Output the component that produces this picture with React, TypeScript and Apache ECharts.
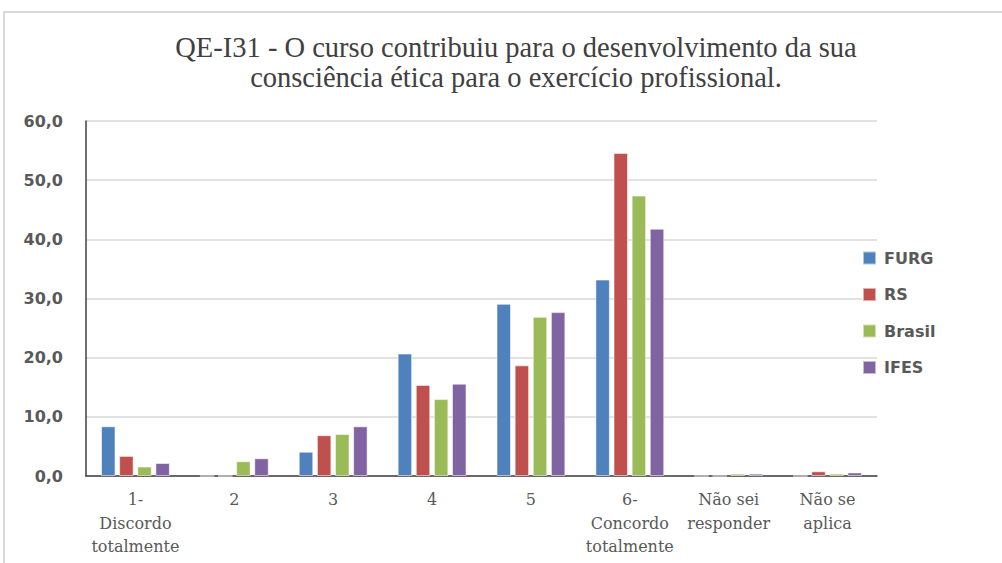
import React, { useEffect, useRef } from "react";
import * as echarts from "echarts";

const titleText = "QE-I31 - O curso contribuiu para o desenvolvimento da sua\nconsciência ética para o exercício profissional.";
const categories = [
  "1-\nDiscordo\ntotalmente",
  "2",
  "3",
  "4",
  "5",
  "6-\nConcordo\ntotalmente",
  "Não sei\nresponder",
  "Não se\naplica",
];
const seriesNames = ["FURG", "RS", "Brasil", "IFES"];
const furg = [8.4, 0, 4.1, 20.7, 29.1, 33.2, 0, 0];
const rs = [3.4, 0, 6.9, 15.4, 18.7, 54.6, 0, 0.8];
const brasil = [1.6, 2.5, 7.1, 13.0, 26.9, 47.4, 0.4, 0.4];
const ifes = [2.2, 3.0, 8.4, 15.6, 27.7, 41.8, 0.4, 0.6];
const colors = ["#4F81BD", "#C0504D", "#9BBB59", "#8064A2"];

export default function App() {
  const ref = useRef<HTMLDivElement>(null);
  useEffect(() => {
    if (!ref.current) return;
    const chart = echarts.init(ref.current, null, { renderer: "svg" });
    const data = [furg, rs, brasil, ifes];
    chart.setOption({
      animation: false,
      backgroundColor: "#ffffff",
      graphic: [
        {
          type: "rect",
          shape: { x: 4, y: 12, width: 1100, height: 700 },
          style: { fill: "none", stroke: "#d9d9d9", lineWidth: 2 },
          silent: true,
        },
      ],
      title: {
        text: titleText,
        left: 511,
        top: 27,
        textAlign: "center",
        textStyle: {
          fontFamily: "Liberation Serif",
          fontSize: 28.5,
          fontWeight: "normal",
          color: "#404040",
          lineHeight: 30,
        },
      },
      legend: {
        orient: "vertical",
        left: 862,
        top: 250,
        padding: 0,
        itemWidth: 13,
        itemHeight: 13,
        itemGap: 20.5,
        icon: "rect",
        data: seriesNames,
        textStyle: {
          fontFamily: "DejaVu Sans",
          fontSize: 16,
          fontWeight: "bold",
          color: "#595959",
          padding: [0, 0, 0, 3],
        },
      },
      grid: { left: 86, right: 125, top: 121, bottom: 87 },
      xAxis: {
        type: "category",
        data: categories,
        axisLine: { lineStyle: { color: "#404040", width: 1.5 } },
        axisTick: { show: false },
        axisLabel: {
          interval: 0,
          margin: 12,
          fontFamily: "DejaVu Serif",
          fontSize: 16,
          color: "#595959",
          lineHeight: 23.5,
        },
      },
      yAxis: {
        type: "value",
        min: 0,
        max: 60,
        interval: 10,
        axisLine: { show: true, lineStyle: { color: "#404040", width: 1.5 } },
        axisTick: { show: false },
        splitLine: { lineStyle: { color: "#d9d9d9", width: 1.5 } },
        axisLabel: {
          margin: 23,
          fontFamily: "DejaVu Sans",
          fontSize: 16,
          fontWeight: "bold",
          color: "#595959",
          formatter: (v: number) => v.toFixed(1).replace(".", ","),
        },
      },
      series: seriesNames.map((name, i) => ({
        name,
        type: "bar",
        data: data[i],
        barWidth: 14.5,
        barGap: "25%",
        itemStyle: {
          color: colors[i],
          borderColor: "rgba(255,255,255,0.55)",
          borderWidth: 1,
        },
      })),
    });
    return () => chart.dispose();
  }, []);
  return (
    <div
      ref={ref}
      style={{ position: "fixed", left: 0, top: 0, width: 1002, height: 563 }}
    />
  );
}
